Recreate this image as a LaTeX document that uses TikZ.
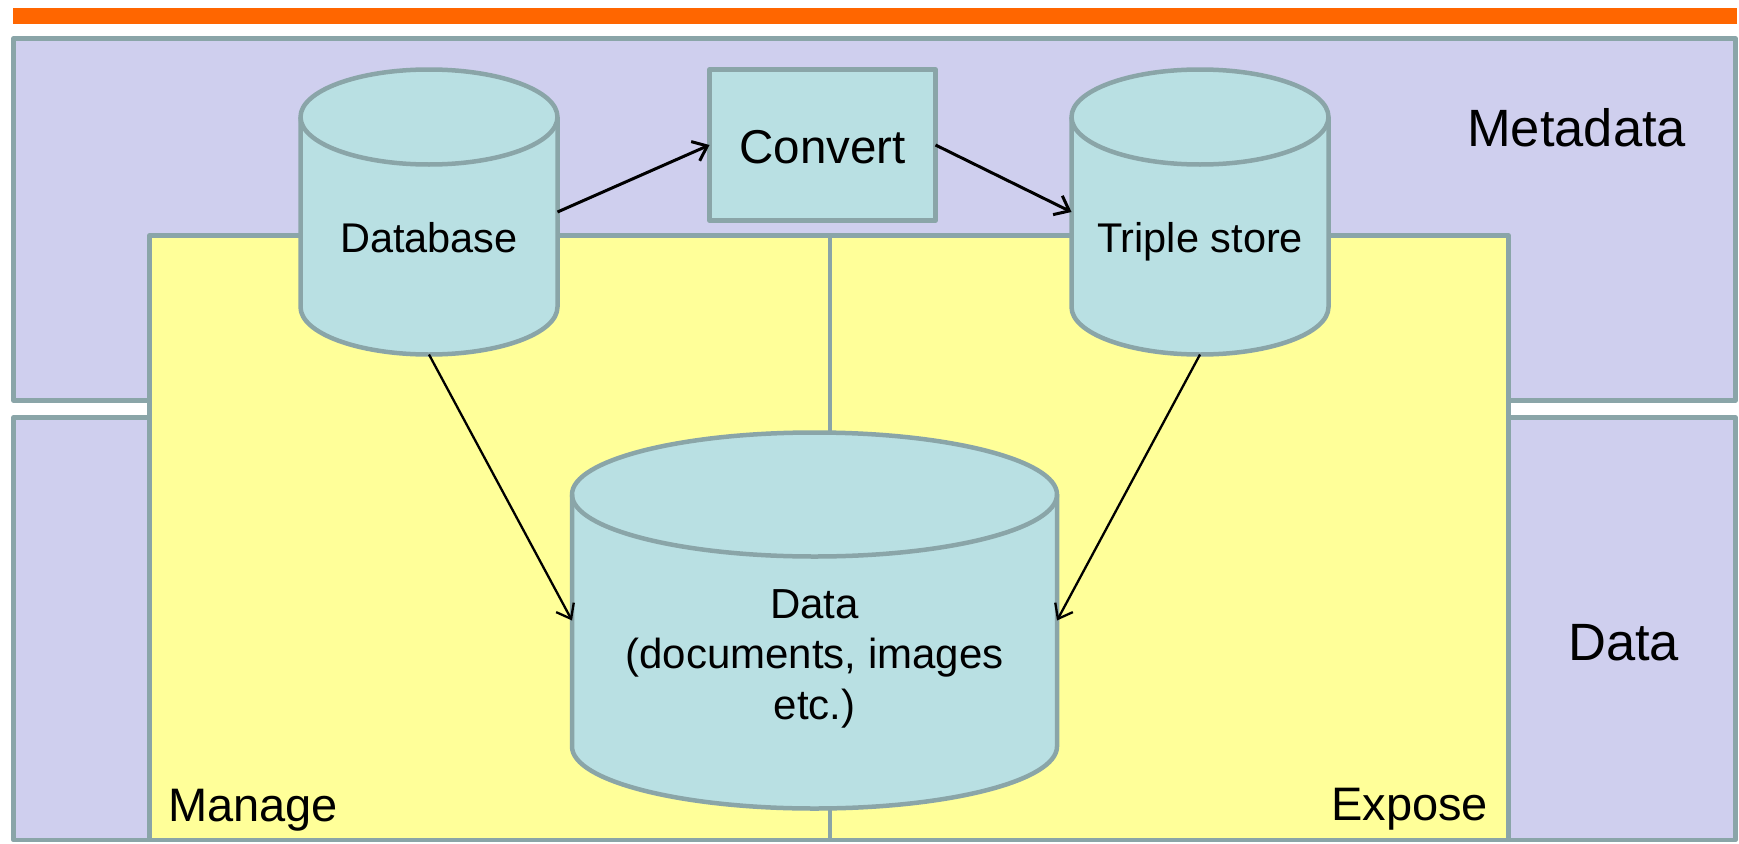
\documentclass[tikz,border=0pt]{standalone}
\usepackage{fontspec}
\setmainfont{Liberation Sans}
\usetikzlibrary{arrows.meta}
\definecolor{barorange}{RGB}{255,102,0}
\definecolor{lav}{RGB}{207,207,238}
\definecolor{yel}{RGB}{255,255,153}
\definecolor{cylfill}{RGB}{185,224,227}
\definecolor{edge}{RGB}{138,165,168}
\newcommand\mycyl[6]{% name, cx, ytop, ybottom, rx, ry
  \path[cylbody] (#2-#5,#3+#6) -- (#2-#5,#4-#6)
    arc[start angle=180,end angle=0,x radius=#5,y radius=#6]
    -- (#2+#5,#3+#6)
    arc[start angle=0,end angle=-180,x radius=#5,y radius=#6] -- cycle;
  \draw[cylline] (#2-#5,#3+#6) arc[start angle=180,end angle=0,x radius=#5,y radius=#6];
  \node[cylbox,minimum width={2*#5},minimum height={#4-#3}] (#1) at (#2,{(#3+#4)/2}) {};
}
\begin{document}
\begin{tikzpicture}[x=1pt,y=-1pt,
  layerbox/.style={draw=edge,fill=lav,line width=4.5pt,line join=round},
  rolebox/.style={draw=edge,fill=yel,line width=4.5pt,line join=round},
  cylbody/.style={draw=edge,fill=cylfill,line width=4.5pt,line join=round},
  cylline/.style={draw=edge,line width=4.5pt},
  cylbox/.style={draw=none,inner sep=0pt,outer sep=0pt,rectangle},
  procbox/.style={draw=edge,fill=cylfill,line width=4.5pt,line join=round,inner sep=0pt,outer sep=0pt,
    minimum width=226pt,minimum height=151pt,font=\fontsize{47.5}{57}\selectfont},
  cyltext/.style={inner sep=0pt,anchor=base,font=\fontsize{41.5}{50}\selectfont},
  biglabel/.style={inner sep=0pt,anchor=base west,font=\fontsize{52.5}{60}\selectfont},
  rolelabel/.style={inner sep=0pt,anchor=base west,font=\fontsize{47}{56}\selectfont},
  arrtop/.style={draw=black,line width=3pt,-{Straight Barb[length=13pt,width=21pt]}},
  arrlow/.style={draw=black,line width=2.3pt,-{Straight Barb[length=13pt,width=20pt]}}
]
\useasboundingbox (0,0) rectangle (1739,843);
% top bar
\fill[barorange] (13,8) rectangle (1737,24);
% layers
\path[layerbox] (13.5,38.5) rectangle (1735.5,400.5);
\path[layerbox] (13.5,417.5) rectangle (1735.5,840);
% roles
\path[rolebox] (149.5,235.5) rectangle (830,840);
\path[rolebox] (830,235.5) rectangle (1508.5,840);
% labels
\node[biglabel] (lmeta) at (1467,146) {Metadata};
\node[biglabel] (ldata) at (1568,660) {Data};
\node[rolelabel] (lmanage) at (168,821) {Manage};
\node[rolelabel] (lexpose) at (1331,820) {Expose};
% cylinders
\mycyl{db}{429}{69.5}{354.5}{128.5}{47.5}
\mycyl{ts}{1200}{69.5}{354.5}{128.5}{47.5}
\mycyl{data}{814.5}{432.5}{808.5}{242.5}{62}
\node[cyltext] (dbt) at (429,252) {Database};
\node[cyltext] (tst) at (1200,252) {Triple store};
\node[cyltext,align=center,font=\fontsize{42}{50.5}\selectfont] (datat) at (814.5,719) {Data\\(documents, images\\etc.)};
% convert
\node[procbox] (conv) at (822.5,145) {};
\node[inner sep=0pt,anchor=base,font=\fontsize{47.5}{57}\selectfont] (convt) at (822.5,163) {Convert};
% arrows
\draw[arrtop] (db.east) -- (conv.west);
\draw[arrtop] (conv.east) -- (ts.west);
\draw[arrlow] (db.south) -- (data.west);
\draw[arrlow] (ts.south) -- (data.east);
\end{tikzpicture}
\end{document}
